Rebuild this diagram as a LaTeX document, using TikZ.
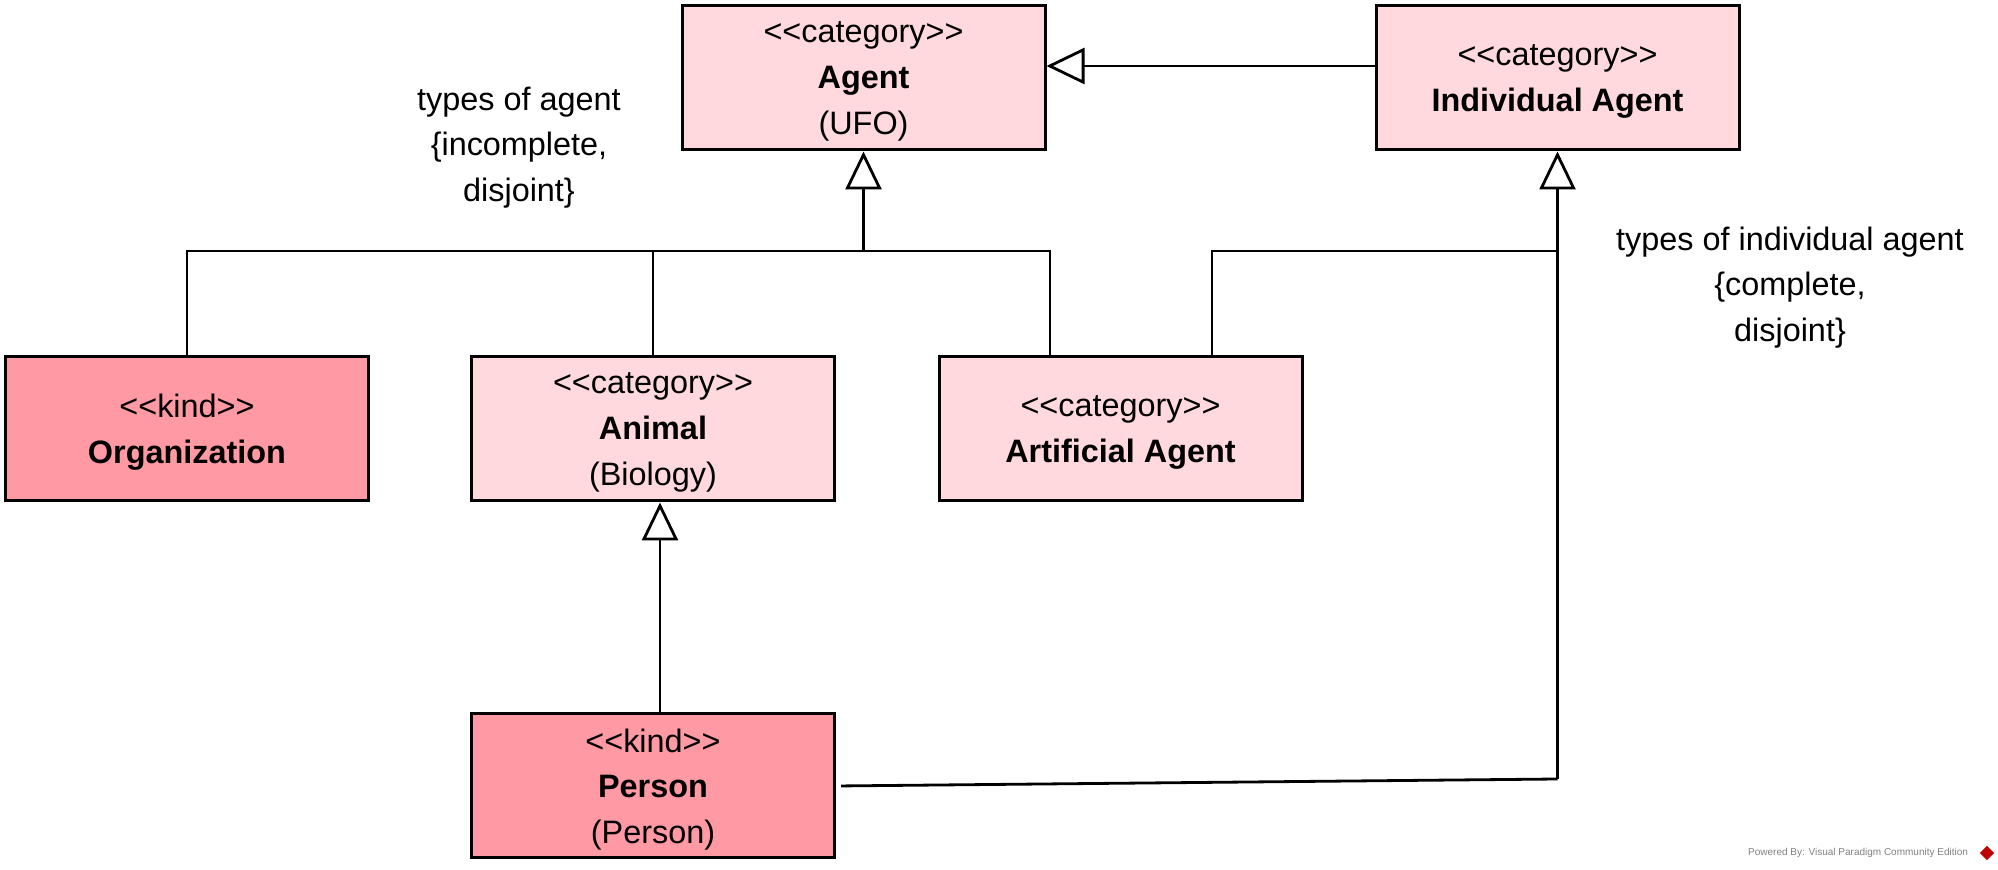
\documentclass[tikz,border=0pt]{standalone}
\usepackage{fontspec}
\setmainfont{Liberation Sans}
\usetikzlibrary{arrows.meta}
\definecolor{catpink}{RGB}{255,217,221}
\definecolor{kindpink}{RGB}{255,153,163}
\newcommand{\stereo}[1]{<{}<#1>{}>}
\begin{document}
\begin{tikzpicture}[x=0.5pt,y=-0.5pt,
    txt/.style={font=\fontsize{16.2}{22.8}\selectfont, align=center, text depth=0pt},
    umlbox/.style={txt, draw, line width=1.5pt, minimum width=181.5pt, minimum height=72pt, inner sep=0pt, text depth=-1.5pt},
    cat/.style={umlbox, fill=catpink},
    kind/.style={umlbox, fill=kindpink},
    conn/.style={line width=1.4pt},
    gen/.style={conn, -{Triangle[open, length=19pt, width=18pt, fill=white]}}]
            \useasboundingbox (0,0) rectangle (1998,870);
            \node[cat] (agent) at (863.5,78) {\stereo{category}\\\textbf{Agent}\\(UFO)};
            \node[cat] (ia) at (1557.5,78) {\stereo{category}\\\textbf{Individual Agent}};
            \node[kind] (org) at (187,429) {\stereo{kind}\\\textbf{Organization}};
            \node[cat] (anim) at (653,429) {\stereo{category}\\\textbf{Animal}\\(Biology)};
            \node[cat] (aa) at (1120.5,429) {\stereo{category}\\\textbf{Artificial Agent}};
            \node[kind] (person) at (653,786) {\stereo{kind}\\\textbf{Person}\\(Person)};
            \node[txt] (agset) at (519,144) {types of agent\\\{incomplete,\\disjoint\}};
            \node[txt] (iaset) at (1790,284) {types of individual agent\\\{complete,\\disjoint\}};
            \coordinate (agj) at (863.5,251);
            \coordinate (aaa) at (1050,357);
            \coordinate (aab) at (1212,357);
            \coordinate (pj) at (1557.5,779);
            \draw[gen] (ia.west |- 0,66) -- (agent.east |- 0,66);
            \draw[gen] (agj) -- (agent);
            \draw[conn] (org.north) |- (aaa |- agj) -- (aaa);
            \draw[conn] (anim.north) -- (anim.north |- agj);
            \draw[gen] (pj) -- (ia);
            \draw[conn] (aab) |- (ia.south |- agj);
            \draw[conn, shorten <=2.5pt] (person.east) -- (pj);
            \draw[gen] ([xshift=3.5pt]person.north) -- ([xshift=3.5pt]anim.south);
            \node[gray, font=\fontsize{5}{6}\selectfont, anchor=east] (vp) at (1975,853) {Powered By: Visual Paradigm Community Edition};
            \node[fill=red!75!black, rotate=45, minimum size=5pt, inner sep=0pt] (vplogo) at (1987,853) {};
        \end{tikzpicture}
\end{document}
